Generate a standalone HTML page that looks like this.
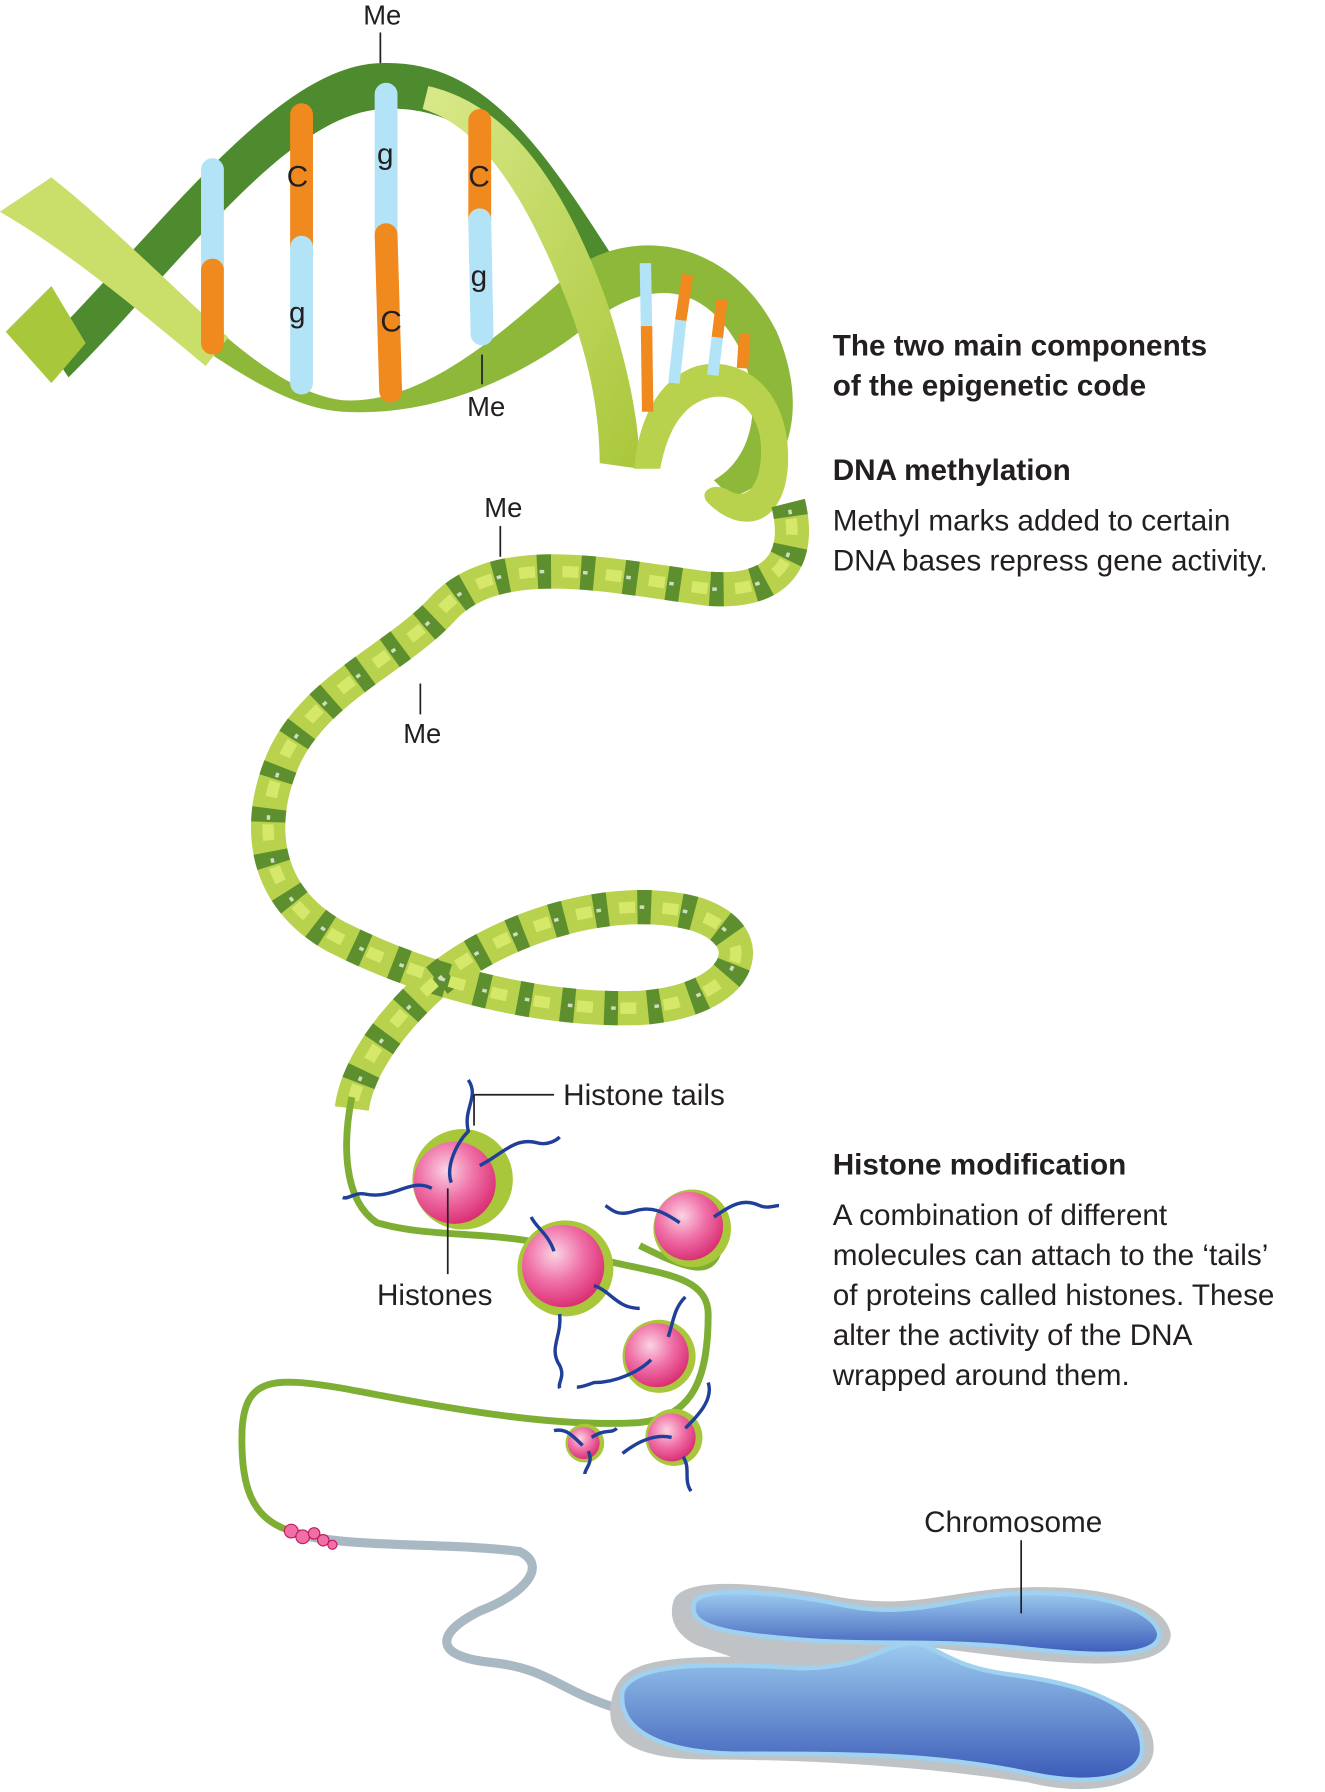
<!DOCTYPE html>
<html><head><meta charset="utf-8"><style>
html,body{margin:0;padding:0;background:#fff}
svg{display:block}
text{font-family:"Liberation Sans",Arial,sans-serif;fill:#231f20}
</style></head><body>
<svg width="1325" height="1792" viewBox="0 0 1160 1568" xmlns="http://www.w3.org/2000/svg">
<defs>
<radialGradient id="pk" cx="0.4" cy="0.35" r="0.7">
<stop offset="0" stop-color="#fbd3e4"/><stop offset="0.5" stop-color="#ef6fa6"/><stop offset="1" stop-color="#d8286e"/></radialGradient>
<linearGradient id="bl" x1="0" y1="0" x2="0" y2="1">
<stop offset="0" stop-color="#9ccbef"/><stop offset="1" stop-color="#3c5bb8"/></linearGradient>
<linearGradient id="lg" x1="0" y1="0" x2="1" y2="1">
<stop offset="0" stop-color="#d9e98a"/><stop offset="1" stop-color="#a9c73a"/></linearGradient>
</defs>

<!-- top big helix -->
<path d="M40 300 C140 200 240 60 330 55 C420 50 470 120 540 230 L520 250 C470 150 410 90 335 95 C250 100 160 230 60 330 Z" fill="#4e8a2e"/>
<path d="M0 185 L45 155 C140 230 220 340 300 350 C380 355 460 270 510 230 C560 200 640 210 680 290 C710 360 690 420 640 435 L625 420 C660 400 670 350 645 300 C610 240 560 250 520 280 C460 330 380 365 300 360 C220 355 130 260 0 185 Z" fill="#8db83a"/>
<path d="M0 185 L45 155 C90 190 150 250 200 295 L180 320 C120 270 60 220 0 185 Z" fill="#c9df6a"/>
<path d="M5 290 L45 250 L75 300 L45 335 Z" fill="#a9c73a"/>
<path d="M375 75 C440 90 490 150 530 260 C550 320 560 370 560 410 L525 405 C525 360 515 310 495 260 C460 170 420 110 370 95 Z" fill="url(#lg)"/>
<path d="M555 410 C560 360 580 330 610 320 C650 310 690 340 690 400 C690 460 650 470 620 440 C610 430 625 420 640 430 C660 440 670 410 665 380 C655 340 620 340 600 360 C585 375 580 400 578 410 Z" fill="#b8d24e"/>
<!-- base pairs -->
<g stroke-width="20" stroke-linecap="round">
<line x1="186" y1="148" x2="186" y2="236" stroke="#b3e3f6"/><line x1="186" y1="236" x2="186" y2="300" stroke="#f08a1e"/>
<line x1="264" y1="100" x2="264" y2="216" stroke="#f08a1e"/><line x1="264" y1="216" x2="264" y2="335" stroke="#b3e3f6"/>
<line x1="338" y1="82" x2="338" y2="205" stroke="#b3e3f6"/><line x1="338" y1="205" x2="342" y2="342" stroke="#f08a1e"/>
<line x1="420" y1="105" x2="420" y2="192" stroke="#f08a1e"/><line x1="420" y1="192" x2="422" y2="292" stroke="#b3e3f6"/>
</g>
<g stroke-width="10">
<line x1="565" y1="230" x2="566" y2="285" stroke="#b3e3f6"/><line x1="566" y1="285" x2="567" y2="360" stroke="#f08a1e"/>
<line x1="602" y1="240" x2="596" y2="280" stroke="#f08a1e"/><line x1="596" y1="280" x2="590" y2="335" stroke="#b3e3f6"/>
<line x1="632" y1="262" x2="628" y2="295" stroke="#f08a1e"/><line x1="628" y1="295" x2="624" y2="328" stroke="#b3e3f6"/>
<line x1="652" y1="292" x2="650" y2="322" stroke="#f08a1e"/>
</g>
<text x="251" y="163" font-size="26">C</text><text x="253" y="282" font-size="26">g</text>
<text x="330" y="143" font-size="26">g</text><text x="333" y="290" font-size="26">C</text>
<text x="410" y="163" font-size="26">C</text><text x="412" y="250" font-size="26">g</text>

<!-- coiled DNA -->
<g fill="none" stroke-linecap="butt">
<path id="coil" d="M690 440 C700 480 690 520 620 515 C540 505 440 480 390 530 C350 575 280 600 250 660 C222 720 230 785 295 820 C370 858 470 885 560 882 C650 876 670 820 610 800 C540 780 440 810 380 860 C335 900 312 940 308 970" stroke="#b8d24e" stroke-width="30"/>
<path d="M690 440 C700 480 690 520 620 515 C540 505 440 480 390 530 C350 575 280 600 250 660 C222 720 230 785 295 820 C370 858 470 885 560 882 C650 876 670 820 610 800 C540 780 440 810 380 860 C335 900 312 940 308 970" stroke="#5e8f2f" stroke-width="30" stroke-dasharray="12 26"/>
<path d="M690 440 C700 480 690 520 620 515 C540 505 440 480 390 530 C350 575 280 600 250 660 C222 720 230 785 295 820 C370 858 470 885 560 882 C650 876 670 820 610 800 C540 780 440 810 380 860 C335 900 312 940 308 970" stroke="#d6e86a" stroke-width="10" stroke-dasharray="14 24" stroke-dashoffset="-14"/>
<path d="M690 440 C700 480 690 520 620 515 C540 505 440 480 390 530 C350 575 280 600 250 660 C222 720 230 785 295 820 C370 858 470 885 560 882 C650 876 670 820 610 800 C540 780 440 810 380 860 C335 900 312 940 308 970" stroke="#fff" stroke-width="3" stroke-opacity="0.7" stroke-dasharray="4 34" stroke-dashoffset="-6"/>
</g>

<!-- strand around histones -->
<g fill="none" stroke="#7fae34" stroke-width="6">
<path d="M308 960 C300 1000 300 1050 330 1070 C380 1085 440 1075 500 1095 C560 1115 620 1110 620 1150 C620 1200 610 1240 560 1245 C480 1250 380 1230 300 1215 C240 1205 215 1205 212 1250 C210 1300 220 1330 255 1340"/>
<path d="M560 1090 C600 1110 625 1120 630 1090"/>
</g>
<path d="M260 1342 C300 1355 400 1350 455 1358 C480 1370 460 1395 420 1410 C380 1430 380 1450 430 1455 C480 1460 490 1480 540 1495" fill="none" stroke="#a9b9c4" stroke-width="8" stroke-linecap="round"/>
<g fill="#ef6fa6" stroke="#c2185b" stroke-width="1">
<circle cx="255" cy="1340" r="6"/><circle cx="265" cy="1345" r="6"/><circle cx="275" cy="1342" r="5"/><circle cx="283" cy="1348" r="5"/><circle cx="291" cy="1352" r="4"/></g>

<!-- histones -->
<g>
<circle cx="405" cy="1032" r="44" fill="#a9c73a"/><circle cx="398" cy="1035" r="36" fill="url(#pk)"/>
<circle cx="495" cy="1110" r="42" fill="#a9c73a"/><circle cx="493" cy="1108" r="36" fill="url(#pk)"/>
<circle cx="606" cy="1075" r="34" fill="#a9c73a"/><circle cx="603" cy="1073" r="30" fill="url(#pk)"/>
<circle cx="577" cy="1187" r="32" fill="#a9c73a"/><circle cx="575" cy="1186" r="28" fill="url(#pk)"/>
<circle cx="590" cy="1258" r="25" fill="#a9c73a"/><circle cx="588" cy="1258" r="21" fill="url(#pk)"/>
<circle cx="512" cy="1263" r="17" fill="#a9c73a"/><circle cx="511" cy="1263" r="14" fill="url(#pk)"/>
</g>
<g fill="none" stroke="#1f3f99" stroke-width="3">
<path d="M395 1035 C390 1020 400 1000 410 990 C405 970 420 960 410 945"/>
<path d="M420 1020 C440 1010 450 995 470 1000 C480 1003 488 997 490 995"/>
<path d="M378 1040 C360 1030 345 1050 320 1045 C310 1043 305 1050 300 1048"/>
<path d="M485 1095 C480 1080 470 1075 465 1065"/>
<path d="M520 1125 C535 1130 540 1145 560 1145"/>
<path d="M490 1150 C492 1170 480 1180 490 1195 C495 1205 488 1210 490 1215"/>
<path d="M595 1070 C580 1060 570 1055 555 1060 C540 1065 535 1058 530 1055"/>
<path d="M625 1065 C640 1055 650 1048 665 1055 C672 1058 678 1055 682 1055"/>
<path d="M570 1190 C560 1200 540 1210 520 1210 C515 1212 508 1214 505 1214"/>
<path d="M585 1170 C590 1155 590 1145 600 1135"/>
<path d="M588 1258 C575 1255 560 1260 545 1272"/>
<path d="M600 1250 C610 1240 625 1225 620 1210"/>
<path d="M598 1275 C605 1285 598 1295 605 1305"/>
<path d="M510 1265 C500 1255 495 1250 485 1252"/>
<path d="M515 1270 C520 1280 512 1285 512 1290"/>
<path d="M518 1258 C530 1250 535 1255 540 1250"/>
</g>

<!-- chromosome -->
<path d="M590 1400 C600 1380 660 1385 720 1395 C790 1410 820 1395 880 1390 C960 1385 1020 1400 1025 1430 C1025 1460 960 1460 880 1450 L800 1440 C780 1440 770 1450 800 1460 C880 1470 1010 1470 1010 1530 C1010 1560 960 1575 900 1560 C800 1545 700 1540 620 1540 C550 1540 530 1520 535 1490 C540 1460 560 1450 640 1450 L610 1440 C590 1430 585 1415 590 1400 Z" fill="#bfc3c6"/>
<path d="M608 1402 C615 1388 680 1393 730 1403 C790 1418 830 1400 880 1395 C950 1390 1010 1405 1015 1430 C1015 1452 960 1450 890 1442 C820 1435 760 1440 700 1435 C640 1430 600 1425 608 1402 Z" fill="url(#bl)" stroke="#9fd1f0" stroke-width="4"/>
<path d="M545 1480 C555 1455 620 1455 700 1460 C760 1460 770 1440 800 1438 C820 1440 830 1458 880 1465 C960 1475 1000 1495 1000 1530 C1000 1555 960 1565 900 1552 C820 1535 750 1535 650 1535 C580 1535 540 1515 545 1480 Z" fill="url(#bl)" stroke="#9fd1f0" stroke-width="4"/>

<!-- leader lines -->
<g stroke="#231f20" stroke-width="1.5" fill="none">
<line x1="333" y1="28" x2="333" y2="55"/>
<line x1="422" y1="310" x2="422" y2="336"/>
<line x1="438" y1="460" x2="438" y2="487"/>
<line x1="368" y1="598" x2="368" y2="625"/>
<line x1="415" y1="958" x2="485" y2="958"/>
<line x1="415" y1="958" x2="415" y2="985"/>
<line x1="392" y1="1040" x2="392" y2="1115"/>
<line x1="894" y1="1348" x2="894" y2="1412"/>
</g>

<!-- labels -->
<text x="318" y="21" font-size="24">Me</text>
<text x="409" y="364" font-size="24">Me</text>
<text x="424" y="452" font-size="24">Me</text>
<text x="353" y="650" font-size="24">Me</text>
<text x="493" y="967" font-size="26">Histone tails</text>
<text x="330" y="1142" font-size="26">Histones</text>
<text x="809" y="1341" font-size="26">Chromosome</text>

<text x="729" y="311" font-size="26" font-weight="bold">The two main components</text>
<text x="729" y="346" font-size="26" font-weight="bold">of the epigenetic code</text>
<text x="729" y="420" font-size="26" font-weight="bold">DNA methylation</text>
<text x="729" y="464" font-size="26">Methyl marks added to certain</text>
<text x="729" y="499" font-size="26">DNA bases repress gene activity.</text>
<text x="729" y="1028" font-size="26" font-weight="bold">Histone modification</text>
<text x="729" y="1072" font-size="26">A combination of different</text>
<text x="729" y="1107" font-size="26">molecules can attach to the ‘tails’</text>
<text x="729" y="1142" font-size="26">of proteins called histones. These</text>
<text x="729" y="1177" font-size="26">alter the activity of the DNA</text>
<text x="729" y="1212" font-size="26">wrapped around them.</text>
</svg>
</body></html>
